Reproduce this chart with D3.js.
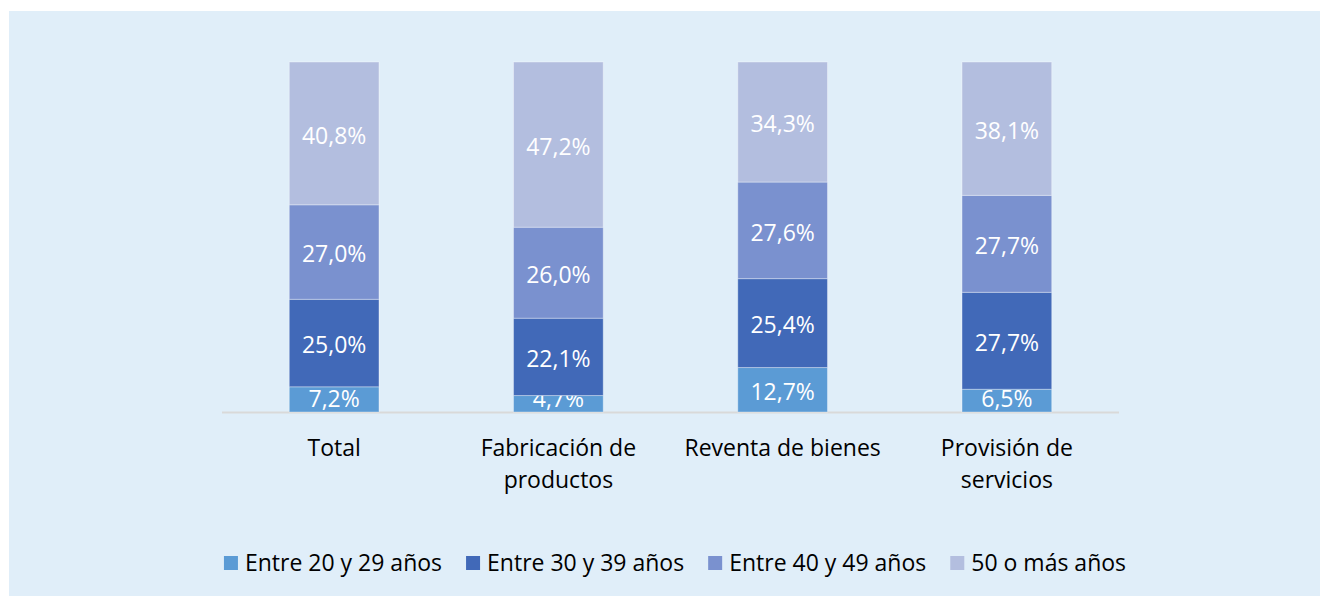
<!DOCTYPE html>
<html>
<head>
<meta charset="utf-8">
<script src="https://cdn.jsdelivr.net/npm/d3@7"></script>
<style>
  body { margin: 0; background: #fff; overflow: hidden; }
  text { font-family: "Open Sans", sans-serif; }
</style>
</head>
<body>
<div id="target"></div>
<script>
// data
let categories = [["Total"], ["Fabricación de", "productos"], ["Reventa de bienes"], ["Provisión de", "servicios"]];
let seriesNames = ["Entre 20 y 29 años", "Entre 30 y 39 años", "Entre 40 y 49 años", "50 o más años"];
let age20_29 = [7.2, 4.7, 12.7, 6.5];
let age30_39 = [25.0, 22.1, 25.4, 27.7];
let age40_49 = [27.0, 26.0, 27.6, 27.7];
let age50plus = [40.8, 47.2, 34.3, 38.1];
let colors = ["#5b9bd5", "#4169b8", "#7a91cf", "#b3bedf"];

let width = 1320,
  height = 596;

let svg = d3.select("#target").append("svg")
  .attr("width", width)
  .attr("height", height)
  .style("display", "block");

svg.append("rect")
  .attr("x", 9).attr("y", 11)
  .attr("width", width - 9).attr("height", height - 11)
  .attr("fill", "#e0eef9");

let keys = categories.map(c => c.join(" "));
let rows = keys.map((k, i) => ({
  cat: k, s0: age20_29[i], s1: age30_39[i], s2: age40_49[i], s3: age50plus[i]
}));

let x = d3.scaleBand()
  .domain(keys)
  .range([222, 1119])
  .paddingInner(0.6)
  .paddingOuter(0.3);

let y = d3.scaleLinear().domain([0, 100]).range([412, 62]);

let stack = d3.stack().keys(["s0", "s1", "s2", "s3"]);
let layers = stack(rows);

// axis line
svg.append("line")
  .attr("x1", 222).attr("x2", 1119)
  .attr("y1", y(0) + 0.5).attr("y2", y(0) + 0.5)
  .attr("stroke", "#d9d9d9")
  .attr("stroke-width", 2);

let g = svg.selectAll("g.layer")
  .data(layers)
  .enter().append("g")
  .attr("class", "layer")
  .attr("fill", (d, i) => colors[i]);

g.selectAll("rect")
  .data(d => d)
  .enter().append("rect")
  .attr("x", d => x(d.data.cat))
  .attr("width", x.bandwidth())
  .attr("y", d => y(d[1]))
  .attr("height", d => y(d[0]) - y(d[1]))
  .attr("stroke", "rgba(255,255,255,0.35)")
  .attr("stroke-width", 1);

// labels, small bottom ones pushed up so they stay inside the bar
g.selectAll("text")
  .data(d => d)
  .enter().append("text")
  .attr("x", d => x(d.data.cat) + x.bandwidth() / 2)
  .attr("y", d => Math.min((y(d[0]) + y(d[1])) / 2, y(0) - 15))
  .attr("dy", "0.45em")
  .attr("text-anchor", "middle")
  .attr("fill", "#fff")
  .style("font-size", "23px")
  .text(d => (d[1] - d[0]).toFixed(1).replace(".", ",") + "%");

// category labels
categories.forEach((lines, i) => {
  let cx = x(keys[i]) + x.bandwidth() / 2;
  let t = svg.append("text")
    .attr("x", cx)
    .attr("y", 456)
    .attr("text-anchor", "middle")
    .attr("fill", "#000")
    .style("font-size", "23px");
  lines.forEach((l, j) => {
    t.append("tspan")
      .attr("x", cx)
      .attr("dy", j === 0 ? 0 : 32)
      .text(l);
  });
});

// legend
let legend = svg.append("g");
let lx = 0;
seriesNames.forEach((name, i) => {
  let item = legend.append("g").attr("transform", "translate(" + lx + ",0)");
  item.append("rect")
    .attr("x", 0).attr("y", -7)
    .attr("width", 14).attr("height", 14)
    .attr("fill", colors[i]);
  let t = item.append("text")
    .attr("x", 21).attr("y", 0)
    .attr("dy", "0.36em")
    .attr("fill", "#000")
    .style("font-size", "23px")
    .text(name);
  lx += 21 + t.node().getComputedTextLength() + 24;
});
let legendWidth = lx - 24;
legend.attr("transform", "translate(" + (675 - legendWidth / 2) + ",563)");
</script>
</body>
</html>
